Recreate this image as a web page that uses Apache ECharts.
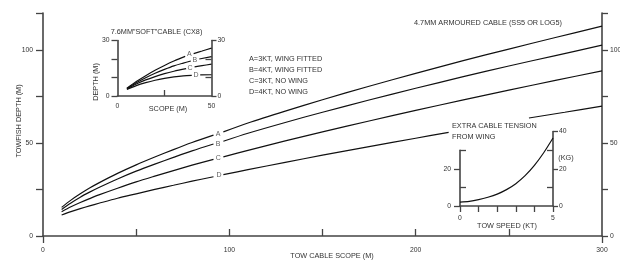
<!DOCTYPE html>
<html>
<head>
<meta charset="utf-8">
<script src="https://cdn.jsdelivr.net/npm/echarts@6/dist/echarts.min.js"></script>
<style>
html, body { margin: 0; padding: 0; background: #fff; }
#chart { width: 620px; height: 266px; }
</style>
</head>
<body>
<div id="chart"></div>
<script>
// main chart, 4.7mm armoured cable: scope (m) -> towfish depth (m); null = gap for the letter
const scopeMain = [10, 15, 20, 25, 30, 40, 50, 60, 70, 80, 91.5, 94, 96.8, 110, 130, 150, 175, 200, 225, 250, 275, 300];
const depthA = [15.4, 19.3, 22.7, 25.8, 28.6, 33.7, 38.3, 42.5, 46.5, 50.3, 54.3, null, 56.0, 60.8, 67.2, 73.3, 80.6, 87.5, 94.2, 100.6, 106.8, 112.9];
const depthB = [14.3, 17.8, 20.9, 23.6, 26.1, 30.7, 34.9, 38.7, 42.3, 45.8, 49.5, null, 51.0, 55.3, 61.1, 66.6, 73.2, 79.5, 85.6, 91.5, 97.1, 102.7];
const depthC = [13.1, 15.7, 18.0, 20.1, 22.1, 25.7, 29.1, 32.2, 35.2, 38.1, 41.2, null, 42.6, 46.1, 51.2, 56.0, 61.9, 67.6, 73.1, 78.5, 83.7, 88.9];
const scopeD = [10, 15, 20, 25, 30, 40, 50, 60, 70, 80, 91.5, 94, 96.8, 110, 130, 150, 175, 200, 217.7, 240, 260.8, 280, 300];
const depthD = [11.3, 13.1, 14.7, 16.2, 17.6, 20.3, 22.7, 25.1, 27.3, 29.5, 31.9, null, 33.0, 35.7, 39.6, 43.5, 48.1, 52.6, 55.8, null, 63.5, 66.6, 69.9];

// inset: 7.6mm "soft" cable
const softScopeA = [5, 10, 15, 20, 25, 30, 36, 38, 40.5, 45, 50];
const softDepthA = [4.2, 7.8, 11, 13.9, 16.5, 18.9, 21.4, null, 22.9, 24.3, 25.9];
const softScopeB = [5, 10, 15, 20, 25, 30, 35, 39, 41, 43.5, 50];
const softDepthB = [4.0, 7.2, 9.9, 12.3, 14.4, 16.3, 17.8, 18.9, null, 20.0, 21.3];
const softScopeC = [5, 10, 15, 20, 25, 30, 36.5, 38.6, 41, 45, 50];
const softDepthC = [3.8, 6.5, 8.7, 10.5, 12.1, 13.4, 14.8, null, 15.7, 16.4, 17.2];
const softScopeD = [5, 10, 15, 20, 25, 30, 35, 39.5, 41.8, 44, 50];
const softDepthD = [3.5, 5.6, 7.2, 8.5, 9.5, 10.3, 10.9, 11.2, null, 11.4, 11.5];

// inset: extra cable tension from wing
const towSpeed = [0, 0.5, 1, 1.5, 2, 2.5, 3, 3.5, 4, 4.5, 5];
const tension = [2.1, 2.5, 3.4, 4.7, 6.4, 8.8, 12, 16.3, 21.8, 28.6, 36.5];

// curve letters
const letters = ["A", "B", "C", "D"];
const mainLabelScope = [94, 94, 94, 94.5];
const mainLabelDepth = [54.8, 49.6, 41.8, 32.6];
const softLabelScope = [38.2, 41.2, 38.6, 41.8];
const softLabelDepth = [22.4, 19.5, 15.3, 11.4];

const FONT = "Liberation Sans";
const AX = "#444";
const TXT = "#333";

function zip(xs, ys) {
  return xs.map((x, i) => [x, ys[i]]);
}

function lineSeries(xs, ys, xi, yi) {
  return {
    type: "line",
    xAxisIndex: xi,
    yAxisIndex: yi,
    data: zip(xs, ys),
    smooth: 0.3,
    connectNulls: false,
    symbol: "none",
    lineStyle: { color: "#111", width: 1.2 },
    silent: true,
  };
}

function letterSeries(xs, ys, xi, yi) {
  return {
    type: "scatter",
    xAxisIndex: xi,
    yAxisIndex: yi,
    symbolSize: 1,
    itemStyle: { color: "transparent" },
    data: xs.map((x, i) => ({ name: letters[i], value: [x, ys[i]] })),
    label: {
      show: true,
      position: "inside",
      formatter: "{b}",
      color: TXT,
      fontSize: 7,
      fontFamily: FONT,
    },
    silent: true,
  };
}

// one axis: ticks all pointing one way, labels only where asked
function axis(o) {
  return {
    type: "value",
    gridIndex: o.grid,
    position: o.pos,
    min: o.min,
    max: o.max,
    show: o.show !== false,
    axisLine: {
      show: o.line !== false,
      onZero: false,
      lineStyle: { color: AX, width: 1.6 },
    },
    axisTick: {
      show: !!o.ticks,
      inside: !!o.inside,
      length: o.tickLen || 6,
      customValues: o.ticks || [],
      lineStyle: { color: AX, width: 1.3 },
    },
    axisLabel: {
      show: !!o.labels,
      customValues: o.labels || [],
      margin: o.margin || 8,
      color: TXT,
      fontSize: 6.8,
      fontFamily: FONT,
    },
    splitLine: { show: false },
  };
}

function text(str, x, y, align, rotate) {
  return {
    type: "text",
    x: x,
    y: y,
    rotation: rotate ? Math.PI / 2 : 0,
    style: {
      text: str,
      fill: TXT,
      font: "7.3px " + FONT,
      align: align || "left",
      verticalAlign: "middle",
    },
    silent: true,
  };
}

const chart = echarts.init(document.getElementById("chart"));

const option = {
  animation: false,
  backgroundColor: "#fff",
  grid: [
    { left: 43, top: 13, width: 559, height: 223, outerBoundsMode: "none", containLabel: false },
    { left: 117.5, top: 40.5, width: 94, height: 55.5, outerBoundsMode: "none", containLabel: false },
    { left: 460, top: 150.2, width: 93, height: 55.8, outerBoundsMode: "none", containLabel: false },
    { left: 460, top: 131.5, width: 93, height: 74.5, outerBoundsMode: "none", containLabel: false },
  ],
  xAxis: [
    axis({ grid: 0, pos: "bottom", min: 0, max: 300, ticks: [50, 100, 150, 200, 250], inside: true, tickLen: 7, labels: [0, 100, 200, 300], margin: 11 }),
    axis({ grid: 1, pos: "bottom", min: 0, max: 50, ticks: [25], inside: true, tickLen: 6, labels: [0, 50], margin: 7 }),
    axis({ grid: 2, pos: "bottom", min: 0, max: 5, show: false }),
    axis({ grid: 3, pos: "bottom", min: 0, max: 5, ticks: [0, 1, 2, 3, 4, 5], tickLen: 6, labels: [0, 5], margin: 9 }),
    axis({ grid: 0, pos: "bottom", min: 0, max: 300, ticks: [0, 300], tickLen: 7, line: false }),
  ],
  yAxis: [
    // main
    axis({ grid: 0, pos: "left", min: 0, max: 120, ticks: [0, 25, 50, 75, 100, 120], tickLen: 7, labels: [0, 50, 100], margin: 10 }),
    axis({ grid: 0, pos: "right", min: 0, max: 120, ticks: [0, 25, 50, 75, 100, 120], tickLen: 6, labels: [0, 50, 100], margin: 8 }),
    // soft cable inset
    axis({ grid: 1, pos: "left", min: 0, max: 30, ticks: [0, 30], tickLen: 6, labels: [0, 30], margin: 8 }),
    axis({ grid: 1, pos: "left", min: 0, max: 30, ticks: [10, 20], tickLen: 6, line: false }),
    axis({ grid: 1, pos: "right", min: 0, max: 30, ticks: [0, 30], tickLen: 5, labels: [0, 30], margin: 6 }),
    axis({ grid: 1, pos: "right", min: 0, max: 30, ticks: [10, 20], inside: true, tickLen: 6, line: false }),
    // tension inset, left axis only reaches 30
    axis({ grid: 2, pos: "left", min: 0, max: 30, ticks: [0, 20], tickLen: 6, labels: [0, 20], margin: 9 }),
    axis({ grid: 2, pos: "left", min: 0, max: 30, ticks: [10, 30], inside: true, tickLen: 6, line: false }),
    axis({ grid: 3, pos: "right", min: 0, max: 40, ticks: [0, 20, 40], tickLen: 5, labels: [0, 20, 40], margin: 6 }),
    axis({ grid: 3, pos: "right", min: 0, max: 40, ticks: [10, 30], inside: true, tickLen: 6, line: false }),
  ],
  series: [
    lineSeries(scopeMain, depthA, 0, 0),
    lineSeries(scopeMain, depthB, 0, 0),
    lineSeries(scopeMain, depthC, 0, 0),
    lineSeries(scopeD, depthD, 0, 0),
    letterSeries(mainLabelScope, mainLabelDepth, 0, 0),
    lineSeries(softScopeA, softDepthA, 1, 2),
    lineSeries(softScopeB, softDepthB, 1, 2),
    lineSeries(softScopeC, softDepthC, 1, 2),
    lineSeries(softScopeD, softDepthD, 1, 2),
    letterSeries(softLabelScope, softLabelDepth, 1, 2),
    lineSeries(towSpeed, tension, 3, 8),
  ],
  graphic: [
    text("4.7MM ARMOURED CABLE (SS5 OR LOG5)", 414, 23),
    text("A=3KT, WING FITTED", 249, 58.5),
    text("B=4KT, WING FITTED", 249, 69.5),
    text("C=3KT, NO WING", 249, 80.7),
    text("D=4KT, NO WING", 249, 91.7),
    text("7.6MM\u201DSOFT\u201DCABLE (CX8)", 156.5, 32, "center"),
    text("DEPTH (M)", 96, 82, "center", true),
    text("SCOPE (M)", 168, 109, "center"),
    text("EXTRA CABLE TENSION", 452, 126),
    text("FROM WING", 452, 137),
    text("(KG)", 566, 158, "center"),
    text("TOW SPEED (KT)", 507, 226, "center"),
    text("TOW CABLE SCOPE (M)", 332, 256, "center"),
    text("TOWFISH DEPTH (M)", 19, 121, "center", true),
  ],
};

chart.setOption(option);
</script>
</body>
</html>
